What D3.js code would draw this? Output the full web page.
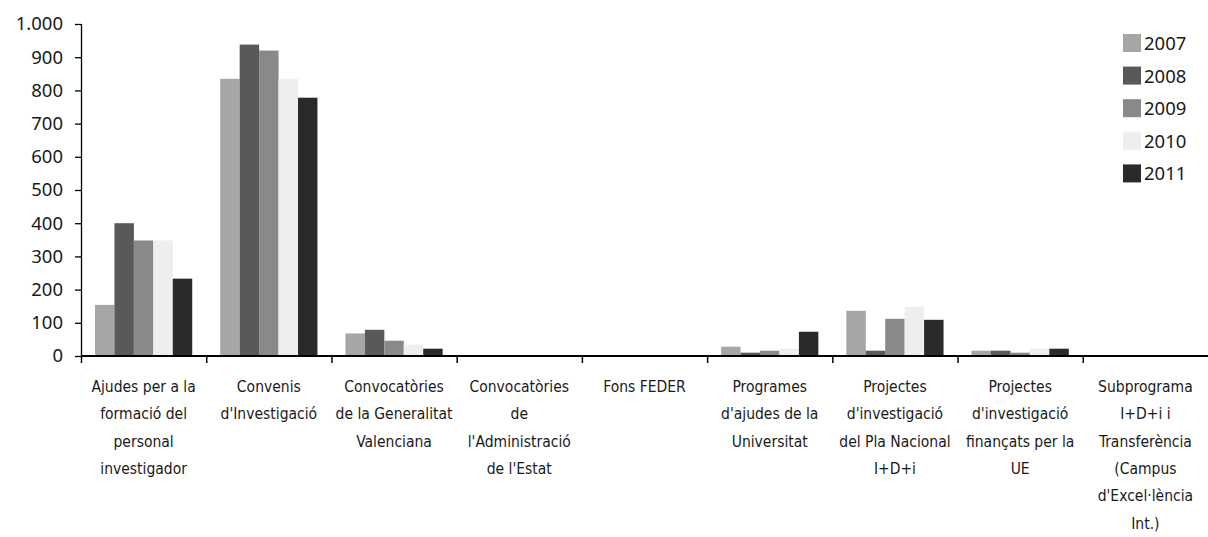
<!DOCTYPE html>
<html>
<head>
<meta charset="utf-8">
<script src="https://cdn.jsdelivr.net/npm/d3@7"></script>
<style>
  body { margin: 0; background: #fff; }
  text { font-family: "Liberation Sans Narrow", "DejaVu Sans Condensed", sans-serif; fill: #1a1a1a; }
</style>
</head>
<body>
<div id="chart"></div>
<script>
// Categories (line breaks as in the original labels)
const categories = [
   "Ajudes per a la\nformació del\npersonal\ninvestigador",
   "Convenis\nd'Investigació",
   "Convocatòries\nde la Generalitat\nValenciana",
   "Convocatòries\nde\nl'Administració\nde l'Estat",
   "Fons FEDER",
   "Programes\nd'ajudes de la\nUniversitat",
   "Projectes\nd'investigació\ndel Pla Nacional\nI+D+i",
   "Projectes\nd'investigació\nfinançats per la\nUE",
   "Subprograma\nI+D+i i\nTransferència\n(Campus\nd'Excel·lència\nInt.)"
];
const years = ["2007", "2008", "2009", "2010", "2011"];
const colors = ["#a6a6a6", "#595959", "#898989", "#eeeeee", "#2a2a2a"];

// Values per year, one per category
const v2007 = [154, 835, 68, 0, 0, 28, 136, 16, 0];
const v2008 = [400, 938, 79, 0, 0, 10, 16, 16, 0];
const v2009 = [348, 920, 46, 0, 0, 16, 112, 10, 0];
const v2010 = [348, 835, 34, 0, 0, 22, 148, 22, 0];
const v2011 = [233, 778, 22, 0, 0, 73, 109, 22, 0];
const series = [v2007, v2008, v2009, v2010, v2011];

const yTicks = [0, 100, 200, 300, 400, 500, 600, 700, 800, 900, 1000];

let width = 1208, height = 537;
let margin = { top: 24, left: 81, right: 0, bottom: 181 };
let innerW = width - margin.left - margin.right;
let innerH = height - margin.top - margin.bottom;

let svg = d3.select("#chart")
            .append("svg")
            .attr("width", width)
            .attr("height", height)
            .append("g")
            .attr("transform", `translate(${margin.left},${margin.top})`);

let x0 = d3.scaleBand()
           .domain(d3.range(categories.length))
           .range([0, innerW])
           .paddingInner(0)
           .paddingOuter(0);

let x1 = d3.scaleBand()
           .domain(d3.range(years.length))
           .range([0, x0.bandwidth()])
           .paddingOuter(0.72)
           .paddingInner(0);

let y = d3.scaleLinear()
          .domain([0, 1000])
          .range([innerH, 0]);

// Bars
let rows = [];
categories.forEach((c, i) => {
   series.forEach((s, j) => rows.push({ cat: i, year: j, value: s[i] }));
});

svg.selectAll(".bar")
   .data(rows.filter(d => d.value > 0))
   .enter()
   .append("rect")
   .attr("class", "bar")
   .attr("x", d => x0(d.cat) + x1(d.year))
   .attr("y", d => y(d.value))
   .attr("width", x1.bandwidth())
   .attr("height", d => innerH - y(d.value))
   .attr("fill", d => colors[d.year]);

// Y axis
let yAxis = svg.append("g")
   .call(d3.axisLeft(y)
           .tickValues(yTicks)
           .tickSize(6)
           .tickPadding(12)
           .tickFormat(d => d3.format(",")(d).replace(",", ".")));
yAxis.select(".domain").attr("stroke", "#000").attr("stroke-width", 1.3).attr("d", `M0.5,0V${innerH}`);
yAxis.selectAll(".tick line").attr("stroke", "#000").attr("stroke-width", 1.3);
yAxis.selectAll(".tick text")
     .style("font-size", "18.5px")
     .style("font-family", "'Noto Sans', 'Open Sans', sans-serif")
     .attr("fill", "#1a1a1a");

// X axis line and category ticks
let xAxis = svg.append("g")
   .attr("transform", `translate(0,${innerH})`);
xAxis.append("line")
   .attr("x1", 0).attr("x2", innerW)
   .attr("stroke", "#000").attr("stroke-width", 2);
xAxis.selectAll(".ctick")
   .data(d3.range(categories.length))
   .enter()
   .append("line")
   .attr("x1", d => x0(d) + 0.5).attr("x2", d => x0(d) + 0.5)
   .attr("y1", 0).attr("y2", 7)
   .attr("stroke", "#000").attr("stroke-width", 1.5);

// Category labels
let lab = xAxis.selectAll(".clabel")
   .data(categories)
   .enter()
   .append("text")
   .attr("class", "clabel")
   .attr("text-anchor", "middle")
   .style("font-size", "15.5px")
   .attr("transform", (d, i) => `translate(${x0(i) + x0.bandwidth() / 2}, 36)`);
lab.selectAll("tspan")
   .data(d => d.split("\n"))
   .enter()
   .append("tspan")
   .attr("x", 0)
   .attr("y", (d, i) => i * 27.3)
   .text(d => d);

// Legend
let legend = svg.append("g")
   .attr("transform", `translate(${1123 - margin.left}, ${34 - margin.top})`);
let items = legend.selectAll(".item")
   .data(years)
   .enter()
   .append("g")
   .attr("transform", (d, i) => `translate(0, ${i * 32.6})`);
items.append("rect")
   .attr("width", 18).attr("height", 18)
   .attr("fill", (d, i) => colors[i]);
items.append("text")
   .attr("x", 21).attr("y", 16)
   .style("font-size", "18.5px")
   .style("font-family", "'Noto Sans', 'Open Sans', sans-serif")
   .text(d => d);
</script>
</body>
</html>
